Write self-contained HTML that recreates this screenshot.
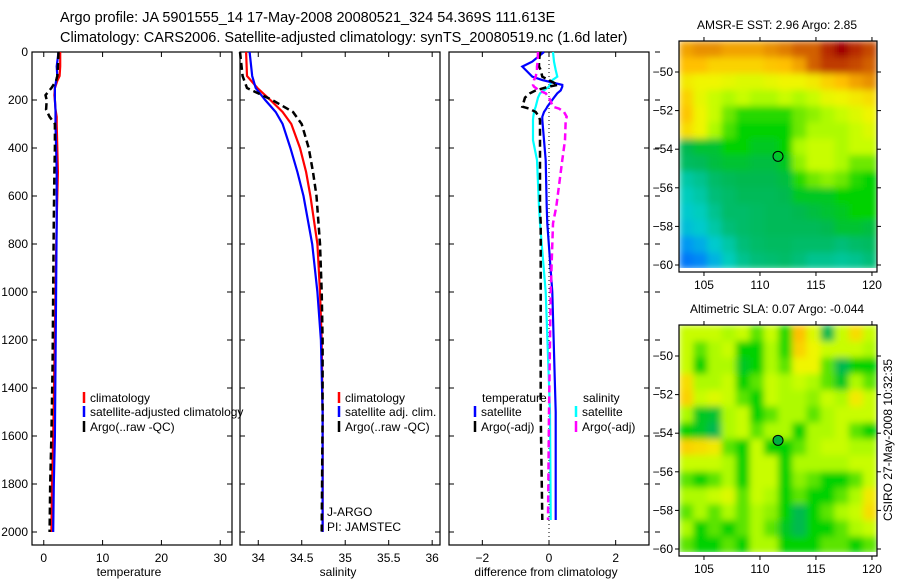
<!DOCTYPE html>
<html><head><meta charset="utf-8"><style>
body{margin:0;background:#fff;}
svg{display:block;font-family:"Liberation Sans",sans-serif;}
</style></head><body>
<svg id="c" width="900" height="580" viewBox="0 0 900 580" xmlns="http://www.w3.org/2000/svg">
<defs>
<filter id="blur" x="0" y="0" width="1" height="1"><feGaussianBlur stdDeviation="3.5" edgeMode="duplicate"/></filter>
<clipPath id="clip1"><rect x="679" y="41" width="198" height="227"/></clipPath>
<clipPath id="clip2"><rect x="679" y="325" width="198" height="227"/></clipPath>
</defs>
<text x="60" y="22" font-size="14.5">Argo profile: JA 5901555_14 17-May-2008 20080521_324 54.369S 111.613E</text>
<text x="60" y="42" font-size="14.5">Climatology: CARS2006. Satellite-adjusted climatology: synTS_20080519.nc (1.6d later)</text>
</svg>
<script>
// ---- data ----
const tDepth=[0,60,100,120,150,180,200,240,270,300,400,500,700,1000,1300,1600,1800,2000];
const tClim=[2.8,2.8,2.7,2.3,1.9,1.8,1.9,2.0,2.2,2.2,2.3,2.4,2.2,2.0,1.8,1.6,1.4,1.3];
const tSat=[2.5,2.2,2.3,2.1,1.9,1.9,1.9,2.0,2.0,2.0,2.1,2.2,2.2,2.1,2.0,1.9,1.7,1.6];
const tArgo=[2.5,2.4,2.3,2.1,1.3,0.3,0.5,0.4,1.0,1.9,1.9,1.8,1.7,1.6,1.5,1.3,1.1,1.0];
const sDepth=[0,100,150,200,250,300,400,500,600,800,1000,1200,1500,2000];
const sClim=[33.86,33.87,33.99,34.14,34.28,34.38,34.48,34.55,34.6,34.68,34.71,34.73,34.74,34.74];
const sSat=[33.9,33.93,33.97,34.08,34.2,34.28,34.37,34.45,34.52,34.62,34.68,34.72,34.74,34.74];
const sArgo=[33.79,33.82,33.87,34.16,34.4,34.5,34.58,34.63,34.67,34.71,34.73,34.74,34.74,34.73];
const dDepth=[0,40,61,75,103,117,137,144,160,172,190,228,236,250,270,283,367,450,644,714,1000,1500,1950];
const dTempSat=[-0.15,-0.5,-0.8,-0.7,-0.5,-0.2,0.4,0.4,0.35,0.25,0.15,-0.05,-0.08,-0.15,-0.2,-0.2,-0.15,-0.1,-0.07,-0.05,0.1,0.2,0.2];
const dSalSat=[0.12,0.15,0.18,0.2,0.25,0.1,0.03,0.0,-0.15,-0.27,-0.33,-0.4,-0.42,-0.45,-0.47,-0.48,-0.48,-0.36,-0.3,-0.27,-0.1,0.03,0.05];
const dTempArgo=[-0.27,-0.3,-0.3,-0.25,-0.2,0.0,0.27,0.0,-0.4,-0.57,-0.72,-0.8,-0.6,-0.4,-0.3,-0.27,-0.27,-0.27,-0.27,-0.25,-0.25,-0.25,-0.2];
const dSalArgo=[-0.33,-0.34,-0.36,-0.36,-0.4,-0.45,-0.48,-0.45,-0.3,-0.1,0.0,0.12,0.3,0.45,0.53,0.5,0.48,0.4,0.22,0.12,0.05,0.0,-0.03];
const depthTicks=[0,200,400,600,800,1000,1200,1400,1600,1800,2000];
const tTicks=[0,10,20,30];
const sTicks=[34,34.5,35,35.5,36];
const sTickLabels=["34","34.5","35","35.5","36"];
const dTicks=[-2,0,2];
const latTicks=[-50,-52,-54,-56,-58,-60];
const lonTicks=[105,110,115,120];
const sstGrid=[
[0.78,0.8,0.8,0.78,0.78,0.78,0.8,0.82,0.85,0.85,0.92,0.98,0.92,0.88],
[0.75,0.75,0.72,0.72,0.72,0.72,0.74,0.75,0.78,0.85,0.9,0.9,0.88,0.85],
[0.68,0.66,0.66,0.65,0.64,0.64,0.65,0.66,0.66,0.68,0.72,0.75,0.78,0.8],
[0.72,0.65,0.62,0.6,0.62,0.6,0.6,0.62,0.6,0.62,0.65,0.66,0.68,0.7],
[0.74,0.66,0.62,0.56,0.52,0.52,0.52,0.52,0.56,0.58,0.6,0.62,0.64,0.66],
[0.7,0.66,0.6,0.54,0.5,0.5,0.5,0.5,0.56,0.6,0.6,0.6,0.62,0.64],
[0.45,0.47,0.47,0.5,0.5,0.48,0.48,0.5,0.6,0.62,0.62,0.6,0.62,0.62],
[0.43,0.44,0.46,0.47,0.47,0.46,0.46,0.48,0.58,0.62,0.62,0.6,0.56,0.56],
[0.36,0.38,0.42,0.44,0.45,0.45,0.45,0.46,0.52,0.56,0.58,0.56,0.52,0.5],
[0.34,0.36,0.4,0.42,0.44,0.44,0.44,0.45,0.48,0.48,0.48,0.5,0.5,0.5],
[0.32,0.34,0.38,0.42,0.42,0.43,0.44,0.44,0.45,0.46,0.47,0.48,0.5,0.5],
[0.3,0.32,0.36,0.4,0.42,0.43,0.44,0.44,0.44,0.44,0.45,0.47,0.47,0.46],
[0.24,0.27,0.32,0.36,0.4,0.42,0.43,0.43,0.42,0.42,0.42,0.4,0.42,0.43],
[0.2,0.22,0.28,0.34,0.38,0.4,0.41,0.42,0.4,0.38,0.38,0.37,0.38,0.4]];
const slaGrid=[
[0.62,0.62,0.62,0.6,0.62,0.55,0.62,0.52,0.75,0.64,0.45,0.62,0.7,0.62],
[0.62,0.55,0.6,0.62,0.5,0.5,0.6,0.52,0.72,0.66,0.62,0.62,0.62,0.6],
[0.62,0.5,0.6,0.6,0.48,0.5,0.6,0.55,0.66,0.66,0.55,0.45,0.5,0.5],
[0.7,0.6,0.6,0.62,0.5,0.55,0.62,0.6,0.62,0.6,0.55,0.48,0.6,0.55],
[0.72,0.62,0.64,0.62,0.55,0.5,0.62,0.6,0.6,0.58,0.62,0.6,0.68,0.62],
[0.6,0.48,0.47,0.6,0.62,0.5,0.55,0.6,0.6,0.55,0.6,0.62,0.62,0.62],
[0.5,0.48,0.45,0.6,0.62,0.55,0.6,0.6,0.5,0.6,0.6,0.62,0.55,0.5],
[0.72,0.7,0.68,0.55,0.5,0.62,0.5,0.5,0.55,0.6,0.62,0.62,0.6,0.6],
[0.62,0.62,0.62,0.6,0.5,0.62,0.62,0.5,0.6,0.6,0.6,0.6,0.62,0.62],
[0.55,0.5,0.55,0.6,0.5,0.62,0.62,0.5,0.58,0.55,0.5,0.5,0.55,0.62],
[0.6,0.6,0.62,0.64,0.55,0.62,0.6,0.5,0.55,0.5,0.5,0.55,0.6,0.68],
[0.55,0.6,0.55,0.6,0.55,0.6,0.58,0.5,0.45,0.5,0.55,0.6,0.62,0.7],
[0.6,0.5,0.55,0.5,0.55,0.6,0.55,0.48,0.45,0.5,0.5,0.55,0.6,0.62],
[0.55,0.5,0.5,0.55,0.5,0.6,0.6,0.5,0.5,0.5,0.55,0.55,0.5,0.55]];
const argoLon=111.613, argoLat=-54.369;

// ---- helpers ----
const NS="http://www.w3.org/2000/svg";
const svg=document.getElementById('c');
function mk(tag,attrs,parent){const e=document.createElementNS(NS,tag);for(const k in attrs)e.setAttribute(k,attrs[k]);(parent||svg).appendChild(e);return e;}
function txt(x,y,s,anchor,size,parent){const e=mk('text',{x:x,y:y,'text-anchor':anchor||'start','font-size':size||12},parent);e.textContent=s;return e;}
const yD=d=>52+d*0.24;
const PT=545;
function panel(name,x0,x1,dmin,dmax){
  const xs=v=>x0+(v-dmin)/(dmax-dmin)*(x1-x0);
  const g=mk('g',{});
  
  
  const r=mk('rect',{x:x0,y:52,width:x1-x0,height:PT-52,fill:'none',stroke:'#000','stroke-width':1.2},g);
  
  
  depthTicks.forEach(d=>{mk('line',{x1:x0,x2:x0+5,y1:yD(d),y2:yD(d),stroke:'#000'},g);mk('line',{x1:x1,x2:x1-5,y1:yD(d),y2:yD(d),stroke:'#000'},g);});
  return {g,xs};
}
function line(g,xs,depths,vals,color,dash,name,w){
  const p=depths.map((d,i)=>(i?'L':'M')+xs(vals[i]).toFixed(1)+','+yD(d).toFixed(1)).join('');
  const e=mk('path',{d:p,fill:'none',stroke:color,'stroke-width':w||2.2,'stroke-dasharray':dash||'none'},g);
  
  
}
function legend(g,x,y,color,label){
  const b=mk('line',{x1:x,x2:x,y1:y-10,y2:y+1,stroke:color,'stroke-width':2.5},g);
  
  
  const t=txt(x+6,y,label,'start',12,g);
  
  
}

// ---- temperature panel ----
let P=panel('temperature',32,232,-2,32);
depthTicks.forEach(d=>{const t=txt(28,yD(d)+4,String(d),'end',12,P.g);});
tTicks.forEach(v=>{mk('line',{x1:P.xs(v),x2:P.xs(v),y1:52,y2:57,stroke:'#000'},P.g);mk('line',{x1:P.xs(v),x2:P.xs(v),y1:PT,y2:PT-5,stroke:'#000'},P.g);txt(P.xs(v),562,String(v),'middle',12,P.g);});
let at=txt(129,576,'temperature','middle',12,P.g);
line(P.g,P.xs,tDepth,tClim,'#f00',null,'temperature-climatology-line');
line(P.g,P.xs,tDepth,tSat,'#00f',null,'temperature-satellite-line');
line(P.g,P.xs,tDepth,tArgo,'#000','7,4','temperature-argo-line',2.5);
legend(P.g,84,402,'#f00','climatology');
legend(P.g,84,416,'#00f','satellite-adjusted climatology');
legend(P.g,84,431,'#000','Argo(..raw -QC)');

// ---- salinity panel ----
P=panel('salinity',240,440,33.79,36.09);
sTicks.forEach((v,i)=>{mk('line',{x1:P.xs(v),x2:P.xs(v),y1:52,y2:57,stroke:'#000'},P.g);mk('line',{x1:P.xs(v),x2:P.xs(v),y1:PT,y2:PT-5,stroke:'#000'},P.g);txt(P.xs(v),562,sTickLabels[i],'middle',12,P.g);});
at=txt(338,576,'salinity','middle',12,P.g);
line(P.g,P.xs,sDepth,sClim,'#f00',null,'salinity-climatology-line');
line(P.g,P.xs,sDepth,sSat,'#00f',null,'salinity-satellite-line');
line(P.g,P.xs,sDepth,sArgo,'#000','7,4','salinity-argo-line',2.5);
legend(P.g,339,402,'#f00','climatology');
legend(P.g,339,416,'#00f','satellite adj. clim.');
legend(P.g,339,431,'#000','Argo(..raw -QC)');
txt(327,516,'J-ARGO','start',12,P.g);
txt(327,531,'PI: JAMSTEC','start',12,P.g);

// ---- difference panel ----
P=panel('difference',449,649,-3,3);
dTicks.forEach(v=>{mk('line',{x1:P.xs(v),x2:P.xs(v),y1:52,y2:57,stroke:'#000'},P.g);mk('line',{x1:P.xs(v),x2:P.xs(v),y1:PT,y2:PT-5,stroke:'#000'},P.g);txt(P.xs(v),562,v<0?'\u2212'+(-v):String(v),'middle',12,P.g);});
at=txt(546,576,'difference from climatology','middle',12,P.g);
mk('line',{x1:P.xs(0),x2:P.xs(0),y1:52,y2:PT,stroke:'#000','stroke-dasharray':'1,3'},P.g);
line(P.g,P.xs,dDepth,dSalSat,'#0ff',null,'salinity-satellite-diff-line');
line(P.g,P.xs,dDepth,dTempSat,'#00f',null,'temperature-satellite-diff-line');
line(P.g,P.xs,dDepth,dTempArgo,'#000','7,4','temperature-argo-diff-line',2.5);
line(P.g,P.xs,dDepth,dSalArgo,'#f0f','7,4','salinity-argo-diff-line',2.5);
txt(482,402,'temperature','start',12,P.g);
legend(P.g,475,416,'#00f','satellite');
legend(P.g,475,431,'#000','Argo(-adj)');
txt(583,402,'salinity','start',12,P.g);
legend(P.g,576,416,'#0ff','satellite');
legend(P.g,576,431,'#f0f','Argo(-adj)');
depthTicks.forEach(d=>mk('line',{x1:655,x2:660,y1:yD(d),y2:yD(d),stroke:'#000'}));

// ---- maps ----
const stops=[[0.15,[0,80,255]],[0.25,[0,160,240]],[0.33,[0,208,200]],[0.4,[0,190,120]],[0.45,[0,185,80]],[0.5,[0,210,0]],[0.56,[110,232,0]],[0.61,[190,255,0]],[0.66,[240,245,0]],[0.75,[255,192,0]],[0.85,[210,96,0]],[0.98,[160,0,0]]];
function cmap(v){
  if(v<=stops[0][0])return 'rgb('+stops[0][1]+')';
  for(let i=1;i<stops.length;i++){if(v<=stops[i][0]){const a=stops[i-1],b=stops[i],f=(v-a[0])/(b[0]-a[0]);return 'rgb('+a[1].map((c,k)=>Math.round(c+(b[1][k]-c)*f)).join(',')+')';}}
  return 'rgb('+stops[stops.length-1][1]+')';
}
function map(name,title,grid,top,markerFill,clipId){
  const x0=679,x1=877,y1=top+231;
  const lonMin=102.77,lonMax=120.45;
  const latBot=-60.2;
  const lx=v=>x0+(v-lonMin)/(lonMax-lonMin)*(x1-x0);
  const ly=v=>top+31+(-50-v)*19.3;
  const g=mk('g',{});
  
  
  const cy0=top, cy1=ly(latBot);
  const nr=grid.length,nc=grid[0].length;
  const cw=(x1-x0)/nc, ch=(cy1-cy0)/nr;
  const clipG=mk('g',{'clip-path':'url(#'+clipId+')'},g);
  const cells=mk('g',{filter:'url(#blur)'},clipG);
  
  
  grid.forEach((row,r)=>row.forEach((v,c)=>{
    const cell=mk('rect',{x:(x0+c*cw).toFixed(2),y:(cy0+r*ch).toFixed(2),width:(cw+0.6).toFixed(2),height:(ch+0.6).toFixed(2),fill:cmap(v)},cells);
    
    
  }));
  mk('rect',{x:x0,y:top,width:x1-x0,height:y1-top,fill:'none',stroke:'#000','stroke-width':1.2},g);
  latTicks.forEach(v=>{mk('line',{x1:x0,x2:x0-4,y1:ly(v),y2:ly(v),stroke:'#000'},g);mk('line',{x1:x1,x2:x1+4,y1:ly(v),y2:ly(v),stroke:'#000'},g);txt(673,ly(v)+4,'\u2212'+(-v),'end',12,g);});
  lonTicks.forEach(v=>{mk('line',{x1:lx(v),x2:lx(v),y1:top,y2:top-4,stroke:'#000'},g);mk('line',{x1:lx(v),x2:lx(v),y1:y1,y2:y1+4,stroke:'#000'},g);txt(lx(v),y1+17,String(v),'middle',12,g);});
  const t=txt(777,top-12,title,'middle',12,g);
  
  
  const m=mk('circle',{cx:lx(argoLon),cy:ly(argoLat),r:5,fill:markerFill,stroke:'#000','stroke-width':1},g);
  
  
}
map('sst-map','AMSR-E SST: 2.96 Argo: 2.85',sstGrid,41,'none','clip1');
map('sla-map','Altimetric SLA: 0.07 Argo: -0.044',slaGrid,325,'#00b040','clip2');
const st=txt(0,0,'CSIRO 27-May-2008 10:32:35','middle',12);
st.setAttribute('transform','translate(892,440) rotate(-90)');


</script>
</body></html>
